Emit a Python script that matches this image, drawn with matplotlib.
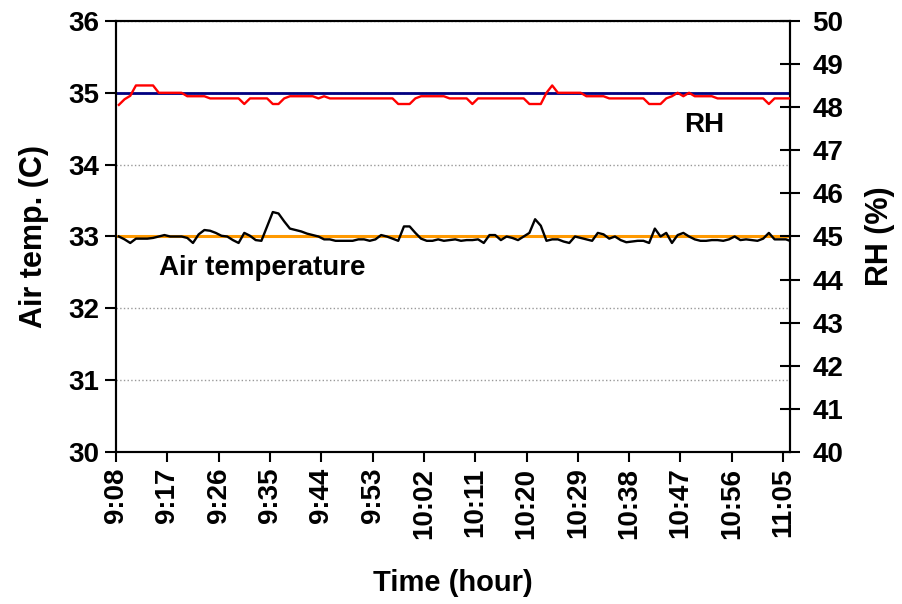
import numpy as np
import matplotlib.pyplot as plt

plt.rcParams['font.family'] = ['Liberation Sans', 'DejaVu Sans']
plt.rcParams['font.weight'] = 'bold'

# one reading per minute, minutes after 9:08
air_temp = [
    33.00, 32.96, 32.91, 32.97, 32.97, 32.97, 32.98, 33.00, 33.02, 33.00,
    33.00, 33.00, 32.98, 32.91, 33.03, 33.09, 33.08, 33.05, 33.01, 33.00,
    32.95, 32.91, 33.05, 33.01, 32.95, 32.94, 33.14, 33.34, 33.32, 33.21,
    33.11, 33.09, 33.07, 33.04, 33.02, 33.00, 32.96, 32.96, 32.94, 32.94,
    32.94, 32.94, 32.96, 32.96, 32.94, 32.96, 33.02, 33.00, 32.97, 32.94,
    33.14, 33.14, 33.05, 32.97, 32.94, 32.94, 32.96, 32.94, 32.95, 32.96,
    32.94, 32.95, 32.95, 32.96, 32.91, 33.02, 33.02, 32.95, 33.00, 32.98,
    32.95, 33.00, 33.05, 33.24, 33.15, 32.94, 32.96, 32.96, 32.93, 32.91,
    33.00, 32.98, 32.96, 32.94, 33.05, 33.03, 32.97, 33.00, 32.95, 32.92,
    32.93, 32.94, 32.94, 32.91, 33.11, 33.00, 33.05, 32.91, 33.02, 33.05,
    33.00, 32.96, 32.94, 32.94, 32.95, 32.95, 32.94, 32.96, 33.00, 32.95,
    32.96, 32.95, 32.94, 32.97, 33.05, 32.96, 32.96, 32.96, 32.93,
]
rh = [
    48.05, 48.18, 48.26, 48.50, 48.50, 48.50, 48.50, 48.33, 48.33, 48.33,
    48.33, 48.33, 48.25, 48.25, 48.25, 48.25, 48.20, 48.20, 48.20, 48.20,
    48.20, 48.20, 48.07, 48.20, 48.20, 48.20, 48.20, 48.07, 48.07, 48.20,
    48.25, 48.25, 48.25, 48.25, 48.25, 48.20, 48.25, 48.20, 48.20, 48.20,
    48.20, 48.20, 48.20, 48.20, 48.20, 48.20, 48.20, 48.20, 48.20, 48.07,
    48.07, 48.07, 48.20, 48.25, 48.25, 48.25, 48.25, 48.25, 48.20, 48.20,
    48.20, 48.20, 48.07, 48.20, 48.20, 48.20, 48.20, 48.20, 48.20, 48.20,
    48.20, 48.20, 48.07, 48.07, 48.07, 48.33, 48.50, 48.33, 48.33, 48.33,
    48.33, 48.33, 48.25, 48.25, 48.25, 48.25, 48.20, 48.20, 48.20, 48.20,
    48.20, 48.20, 48.20, 48.07, 48.07, 48.07, 48.20, 48.25, 48.33, 48.25,
    48.33, 48.25, 48.25, 48.25, 48.25, 48.20, 48.20, 48.20, 48.20, 48.20,
    48.20, 48.20, 48.20, 48.20, 48.07, 48.20, 48.20, 48.20, 48.20,
]
minutes = np.arange(len(air_temp)) + 0.5

tick_labels = ['9:08', '9:17', '9:26', '9:35', '9:44', '9:53', '10:02',
               '10:11', '10:20', '10:29', '10:38', '10:47', '10:56', '11:05']
temp_ref = 33
rh_ref_on_temp = 35

fig = plt.figure(figsize=(9.02, 6.04), dpi=100)
ax = fig.add_axes([0.1286, 0.2512, 0.7472, 0.7145])
ax2 = ax.twinx()

ax.set_ylim(30, 36)
ax.set_xlim(0, 118.2)
ax.set_yticks(range(30, 37))
ax.grid(axis='y', linestyle=':', color='#999999', linewidth=1)
ax.set_axisbelow(True)

ax.axhline(rh_ref_on_temp, color='#000080', linewidth=2, zorder=2)
ax.axhline(temp_ref, color='#FF9900', linewidth=2.2, zorder=2)
ax.plot(minutes, air_temp, color='black', linewidth=1.7, zorder=3)

ax2.set_ylim(40, 50)
ax2.set_yticks(range(40, 51))
ax2.plot(minutes, rh, color='#FF0000', linewidth=1.7, zorder=3)

ax.set_xticks(np.arange(len(tick_labels)) * 9)
ax.set_xticklabels(tick_labels, rotation=90)

fs = 20
ax.tick_params(axis='y', direction='out', length=8, width=1.5, labelsize=fs, pad=4)
ax.tick_params(axis='x', direction='out', length=7, width=1.5, labelsize=fs, pad=4)
ax2.tick_params(axis='y', direction='inout', length=14, width=1.5, labelsize=fs, pad=9)
for a in (ax, ax2):
    for s in a.spines.values():
        s.set_linewidth(1.5)

ax.set_ylabel('Air temp. (C)', fontsize=22, fontweight='bold', labelpad=14)
ax2.set_ylabel('RH (%)', fontsize=22, fontweight='bold', labelpad=16)
ax.set_xlabel('Time (hour)', fontsize=21, fontweight='bold', labelpad=22)

ax.text(103.2, 34.45, 'RH', fontsize=fs, fontweight='bold', ha='center', va='baseline')
ax.text(7.6, 32.46, 'Air temperature', fontsize=fs, fontweight='bold', ha='left', va='baseline')

fig.savefig('out.png', dpi=100)
